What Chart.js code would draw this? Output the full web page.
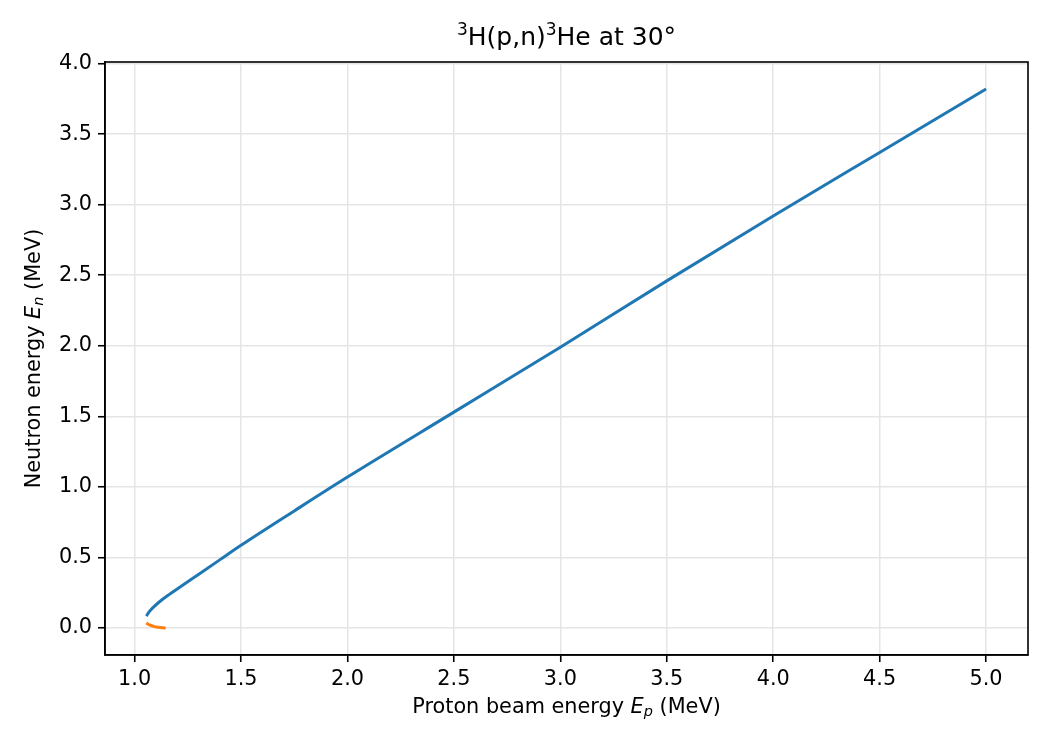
<!DOCTYPE html>
<html>
<head>
<meta charset="utf-8">
<script src="https://cdn.jsdelivr.net/npm/chart.js@4.4.1/dist/chart.umd.min.js"></script>
<style>
  body { margin: 0; background: #fff; }
  canvas { display: block; }
</style>
</head>
<body>
<canvas id="kin" width="1050" height="750"></canvas>
<script>
// values
var protonE  = [1.055, 1.07, 1.09, 1.12, 1.16, 1.2, 1.3, 1.4, 1.5, 1.75, 2.0, 2.5, 3.0, 3.5, 4.0, 4.5, 5.0];
var neutronE = [0.085, 0.118, 0.150, 0.190, 0.235, 0.277, 0.380, 0.483, 0.586, 0.830, 1.07, 1.53, 1.99, 2.46, 2.92, 3.37, 3.82];

var protonLow  = [1.055, 1.07, 1.09, 1.11, 1.13, 1.146];
var neutronLow = [0.036, 0.022, 0.012, 0.006, 0.002, 0.0];

var xTicks = [1.0, 1.5, 2.0, 2.5, 3.0, 3.5, 4.0, 4.5, 5.0];
var yTicks = [0.0, 0.5, 1.0, 1.5, 2.0, 2.5, 3.0, 3.5, 4.0];

function toPoints(xs, ys) {
    return xs.map(function (x, i) { return { x: x, y: ys[i] }; });
}

var FONT = '"DejaVu Sans", sans-serif';

// draws a string made of pieces with different styles
function drawRuns(ctx, runs, cx, cy) {
    var total = 0;
    runs.forEach(function (r) {
        ctx.font = r.font;
        r.w = ctx.measureText(r.text).width;
        total += r.w;
    });
    var x = cx - total / 2;
    ctx.textBaseline = 'middle';
    ctx.textAlign = 'left';
    runs.forEach(function (r) {
        ctx.font = r.font;
        ctx.fillText(r.text, x, cy + (r.dy || 0));
        x += r.w;
    });
}

var labelsPlugin = {
    id: 'labels',
    afterDraw: function (chart) {
        var ctx = chart.ctx;
        var a = chart.chartArea;
        ctx.save();
        ctx.fillStyle = '#000';

        // frame
        ctx.strokeStyle = '#000';
        ctx.lineWidth = 1.6;
        ctx.strokeRect(a.left, a.top, a.right - a.left, a.bottom - a.top);

        var big = '25px ' + FONT;
        var sup = '17px ' + FONT;
        drawRuns(ctx, [
            { text: '3', font: sup, dy: -7 },
            { text: 'H(p,n)', font: big },
            { text: '3', font: sup, dy: -7 },
            { text: 'He at 30°', font: big }
        ], (a.left + a.right) / 2, 38);

        var norm = '20.8px ' + FONT;
        var ital = 'italic 20.8px ' + FONT;
        var sub = 'italic 14.5px ' + FONT;
        drawRuns(ctx, [
            { text: 'Proton beam energy ', font: norm },
            { text: 'E', font: ital },
            { text: 'p', font: sub, dy: 4 },
            { text: ' (MeV)', font: norm }
        ], (a.left + a.right) / 2, 708);

        ctx.translate(35, (a.top + a.bottom) / 2);
        ctx.rotate(-Math.PI / 2);
        drawRuns(ctx, [
            { text: 'Neutron energy ', font: norm },
            { text: 'E', font: ital },
            { text: 'n', font: sub, dy: 4 },
            { text: ' (MeV)', font: norm }
        ], 0, 0);
        ctx.restore();
    }
};

var ctx = document.getElementById('kin').getContext('2d');
var kinChart = new Chart(ctx, {
    type: 'scatter',
    data: {
        datasets: [{
            label: 'forward',
            data: toPoints(protonE, neutronE),
            showLine: true,
            borderColor: '#1f77b4',
            borderWidth: 3,
            pointRadius: 0,
            cubicInterpolationMode: 'monotone'
        }, {
            label: 'backward',
            data: toPoints(protonLow, neutronLow),
            showLine: true,
            borderColor: '#ff7f0e',
            borderWidth: 3,
            pointRadius: 0,
            cubicInterpolationMode: 'monotone'
        }]
    },
    options: {
        responsive: false,
        devicePixelRatio: 1,
        animation: false,
        layout: {
            padding: { left: 0, right: 22, top: 62, bottom: 0 }
        },
        plugins: {
            legend: { display: false },
            title: { display: false },
            tooltip: { enabled: false }
        },
        scales: {
            x: {
                type: 'linear',
                min: 0.861,
                max: 5.197,
                afterBuildTicks: function (scale) {
                    scale.ticks = xTicks.map(function (v) { return { value: v }; });
                },
                afterFit: function (scale) { scale.height = 95; },
                ticks: {
                    color: '#000',
                    font: { family: FONT, size: 20.8 },
                    padding: 5,
                    maxRotation: 0,
                    callback: function (v) { return v.toFixed(1); }
                },
                grid: {
                    color: '#e5e5e5',
                    lineWidth: 1.5,
                    tickLength: 7,
                    tickColor: '#000',
                    tickWidth: 1.6
                },
                border: { display: true, color: '#000', width: 1.6 }
            },
            y: {
                type: 'linear',
                min: -0.191,
                max: 4.011,
                afterBuildTicks: function (scale) {
                    scale.ticks = yTicks.map(function (v) { return { value: v }; });
                },
                afterFit: function (scale) { scale.width = 105; },
                ticks: {
                    color: '#000',
                    font: { family: FONT, size: 20.8 },
                    padding: 6,
                    callback: function (v) { return v.toFixed(1); }
                },
                grid: {
                    color: '#e5e5e5',
                    lineWidth: 1.5,
                    tickLength: 7,
                    tickColor: '#000',
                    tickWidth: 1.6
                },
                border: { display: true, color: '#000', width: 1.6 }
            }
        }
    },
    plugins: [labelsPlugin]
});
</script>
</body>
</html>
